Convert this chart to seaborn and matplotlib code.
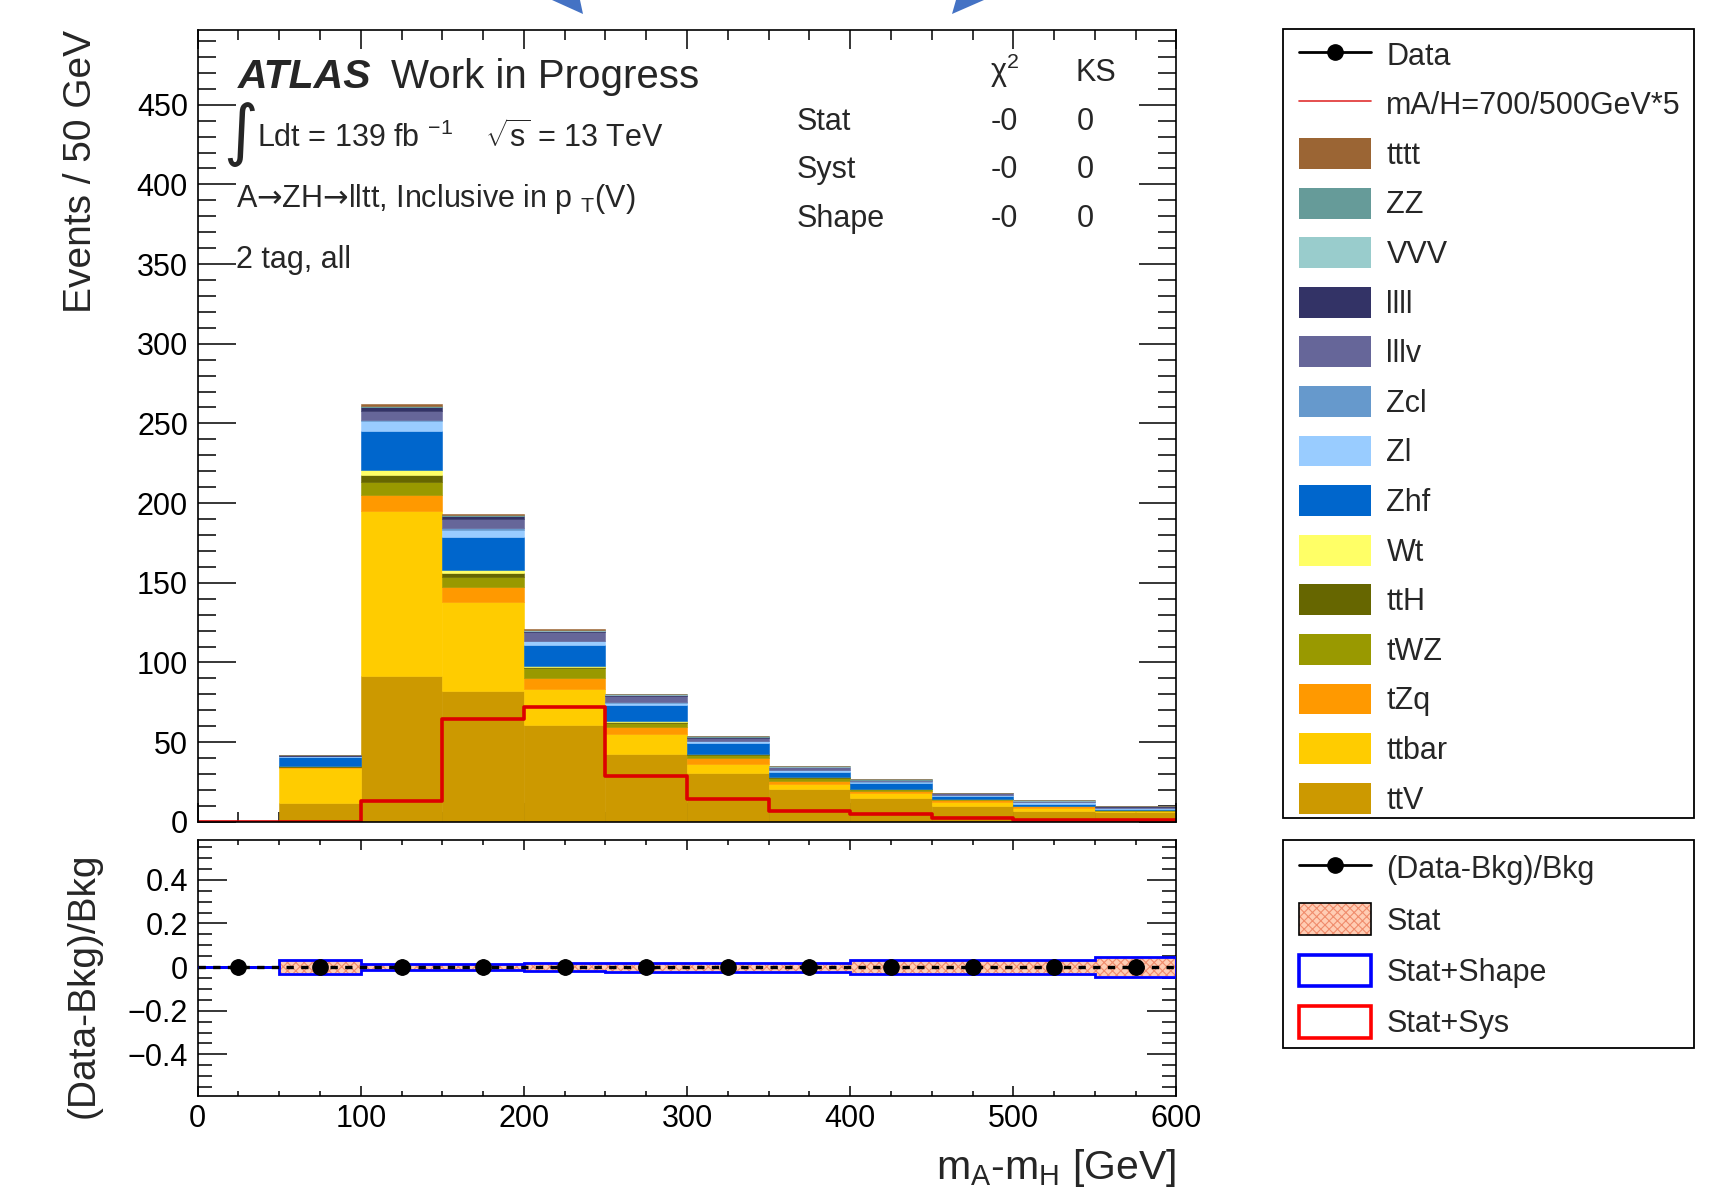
import numpy as np
import pandas as pd
import matplotlib
matplotlib.use("Agg")
import matplotlib.pyplot as plt
import seaborn as sns
from matplotlib.patches import Patch, Polygon, Rectangle
from matplotlib.lines import Line2D
from matplotlib.legend_handler import HandlerTuple
from matplotlib.ticker import MultipleLocator

# ---------------- data ----------------
bin_edges = [0, 50, 100, 150, 200, 250, 300, 350, 400, 450, 500, 550, 600]
bin_centers = [25, 75, 125, 175, 225, 275, 325, 375, 425, 475, 525, 575]

ttV   = [0, 11.6, 91.5, 82.3, 60.8, 42.6, 30.7, 20.6, 14.7, 10.1, 6.5, 5.9]
ttbar = [0, 22.0, 103.6, 55.9, 22.4, 12.5, 5.6, 3.1, 3.2, 2.1, 2.1, 0.6]
tZq   = [0, 0.6, 10.0, 9.0, 6.9, 4.6, 3.6, 2.1, 1.6, 1.5, 1.1, 0.4]
tWZ   = [0, 0.5, 8.4, 6.7, 6.3, 2.5, 2.3, 1.8, 0.9, 0.5, 0.4, 0.2]
ttH   = [0, 0.2, 4.2, 2.5, 1.0, 0.6, 0.3, 0.2, 0.1, 0.1, 0.05, 0.05]
Wt    = [0, 0.2, 3.1, 1.7, 0.4, 0.3, 0.1, 0.1, 0.1, 0.05, 0.05, 0.02]
Zhf   = [0, 5.5, 24.5, 20.9, 13.2, 10.0, 6.8, 3.6, 4.0, 1.6, 1.0, 0.8]
Zl    = [0, 0.4, 6.0, 4.2, 2.2, 1.6, 1.2, 0.9, 0.6, 0.7, 1.0, 0.4]
Zcl   = [0, 0.3, 1.0, 1.0, 0.5, 0.5, 0.3, 0.2, 0.2, 0.3, 0.3, 0.3]
lllv  = [0, 0.3, 5.6, 6.0, 5.3, 3.6, 1.8, 1.6, 0.8, 0.9, 0.5, 0.8]
llll  = [0, 0.1, 2.1, 1.5, 1.0, 0.8, 0.5, 0.4, 0.2, 0.2, 0.1, 0.2]
VVV   = [0, 0.05, 0.5, 0.4, 0.3, 0.3, 0.2, 0.15, 0.1, 0.1, 0.4, 0.1]
ZZ    = [0, 0.05, 0.6, 0.5, 0.3, 0.3, 0.2, 0.15, 0.1, 0.1, 0.2, 0.1]
tttt  = [0, 0.0, 1.0, 0.5, 0.2, 0.2, 0.2, 0.1, 0.05, 0.05, 0.0, 0.0]

signal = [0, 0, 13.3, 64.3, 71.9, 28.8, 14.2, 6.9, 4.8, 2.5, 1.1, 0.9]

ratio_values = [0, 0, 0, 0, 0, 0, 0, 0, 0, 0, 0, 0]
ratio_errors = [0.035, 0.035, 0.035, 0.035, 0.035, 0.035, 0.035, 0.035, 0.035, 0.035, 0.035, 0.035]
stat_err  = [0, 0.028, 0.013, 0.013, 0.017, 0.018, 0.018, 0.018, 0.028, 0.029, 0.029, 0.042]
shape_err = [0, 0.031, 0.015, 0.015, 0.020, 0.021, 0.021, 0.021, 0.032, 0.032, 0.032, 0.046]

# legend / stacking order (top of stack first)
process_names = ["tttt", "ZZ", "VVV", "llll", "lllv", "Zcl", "Zl", "Zhf",
                 "Wt", "ttH", "tWZ", "tZq", "ttbar", "ttV"]
process_values = [tttt, ZZ, VVV, llll, lllv, Zcl, Zl, Zhf, Wt, ttH, tWZ, tZq, ttbar, ttV]
process_colors = ["#9b6534", "#669b99", "#99cccc", "#333366", "#666699", "#6699cc",
                  "#99ccff", "#0066cc", "#ffff66", "#666600", "#999900", "#ff9900",
                  "#ffcc00", "#cc9900"]

# ---------------- style ----------------
sns.set_theme(style="ticks")
plt.rcParams['font.family'] = ['Liberation Sans', 'DejaVu Sans']
plt.rcParams['mathtext.fontset'] = 'custom'
plt.rcParams['mathtext.rm'] = 'Liberation Sans'
plt.rcParams['mathtext.it'] = 'Liberation Sans:italic'
plt.rcParams['mathtext.bf'] = 'Liberation Sans:bold'
plt.rcParams['mathtext.sf'] = 'DejaVu Sans'
plt.rcParams['axes.edgecolor'] = 'black'
plt.rcParams['axes.linewidth'] = 1.2
plt.rcParams['xtick.color'] = 'black'
plt.rcParams['ytick.color'] = 'black'
plt.rcParams['hatch.linewidth'] = 0.8

W, H = 1732, 1194
fig = plt.figure(figsize=(W / 100, H / 100), dpi=100)

def fx(px):
    return px / W

def fy(py):
    return 1 - py / H

ax = fig.add_axes([fx(197.7), fy(821.8), fx(1176.4) - fx(197.7), fy(29.8) - fy(821.8)])
axr = fig.add_axes([fx(197.7), fy(1095.8), fx(1176.4) - fx(197.7), fy(839.5) - fy(1095.8)])

# ---------------- main stacked histogram ----------------
rows = []
for name, vals in zip(process_names, process_values):
    for c, v in zip(bin_centers, vals):
        rows.append({"mass": c, "events": v, "process": name})
df = pd.DataFrame(rows)

sns.histplot(data=df, x="mass", weights="events", hue="process",
             hue_order=process_names, palette=dict(zip(process_names, process_colors)),
             multiple="stack", bins=bin_edges, element="bars", alpha=1,
             linewidth=0, legend=False, ax=ax)
for p in ax.patches:
    p.set_edgecolor(p.get_facecolor())
    p.set_linewidth(0.4)

sns.histplot(x=bin_centers, weights=signal, bins=bin_edges, element="step",
             fill=False, color="#dd0000", linewidth=2.6, ax=ax)

ax.set_xlim(0, 600)
ax.set_ylim(0, 497)
ax.xaxis.set_major_locator(MultipleLocator(100))
ax.xaxis.set_minor_locator(MultipleLocator(25))
ax.yaxis.set_major_locator(MultipleLocator(50))
ax.yaxis.set_minor_locator(MultipleLocator(10))
ax.tick_params(axis='both', which='both', direction='in', top=True, right=True,
               width=1.1, labelsize=22)
ax.tick_params(axis='y', which='major', length=27, pad=7)
ax.tick_params(axis='y', which='minor', length=13)
ax.tick_params(axis='x', which='major', length=14)
ax.tick_params(axis='x', which='minor', length=7)
ax.tick_params(axis='x', labelbottom=False)
ax.set_xlabel("")
ax.set_ylabel("Events / 50 GeV", fontsize=28, loc='top')
ax.yaxis.set_label_coords(-0.101, 1.0)

# texts
tr = ax.transAxes
def axx(px):
    return (px - 197.7) / 978.7

def axy(py):
    return 1 - (py - 29.8) / 792.0

ax.text(axx(238), axy(87.5), "ATLAS", fontsize=29.5, fontweight='bold', fontstyle='italic',
        transform=tr, va='baseline')
ax.text(axx(391), axy(87.5), "Work in Progress", fontsize=29, transform=tr, va='baseline')
ax.text(axx(241), axy(134), "\u222B", fontsize=48, family=['DejaVu Sans'],
        transform=tr, va='center', ha='center')
ax.text(axx(257), axy(147), r"Ldt = 139 fb $^{-1}$", fontsize=22, transform=tr, va='baseline')
ax.text(axx(485), axy(147), r"$\sqrt{\mathrm{s}}$ = 13 TeV", fontsize=22, transform=tr, va='baseline')
ax.text(axx(236), axy(207), r"A$\mathsf{→}$ZH$\mathsf{→}$lltt, Inclusive in p $_{\mathrm{T}}$(V)",
        fontsize=22, transform=tr, va='baseline')
ax.text(axx(236), axy(268), "2 tag, all", fontsize=22, transform=tr, va='baseline')

ax.text(axx(990), axy(81), r"χ$^{2}$", fontsize=22, transform=tr, va='baseline')
ax.text(axx(1076), axy(81), "KS", fontsize=22, transform=tr, va='baseline')
for lab, yb in zip(["Stat", "Syst", "Shape"], [129.5, 178.5, 227]):
    ax.text(axx(797), axy(yb), lab, fontsize=22, transform=tr, va='baseline')
    ax.text(axx(991), axy(yb), "-0", fontsize=22, transform=tr, va='baseline')
    ax.text(axx(1077), axy(yb), "0", fontsize=22, transform=tr, va='baseline')

# ---------------- ratio panel ----------------
stat_arr = np.array(stat_err)
shape_arr = np.array(shape_err)
axr.stairs(stat_arr, bin_edges, baseline=-stat_arr, fill=True, facecolor="#ffcdb4",
           edgecolor="#f08c6c", hatch="xxxx", linewidth=0, zorder=2)
axr.stairs(shape_arr, bin_edges, baseline=-shape_arr, fill=False, edgecolor="blue",
           linewidth=2.0, zorder=3)
axr.axhline(0, color="black", linestyle=(0, (2.2, 2.2)), linewidth=2.4, zorder=4)
axr.errorbar(bin_centers, ratio_values, yerr=ratio_errors, fmt='o', color='black',
             markersize=11, elinewidth=2, capsize=0, zorder=5)

axr.set_xlim(0, 600)
axr.set_ylim(-0.59, 0.585)
axr.xaxis.set_major_locator(MultipleLocator(100))
axr.xaxis.set_minor_locator(MultipleLocator(25))
axr.yaxis.set_major_locator(MultipleLocator(0.2))
axr.yaxis.set_minor_locator(MultipleLocator(0.05))
axr.set_yticks([-0.4, -0.2, 0, 0.2, 0.4])
axr.set_yticklabels(["\u22120.4", "\u22120.2", "0", "0.2", "0.4"])
axr.tick_params(axis='both', which='both', direction='in', top=True, right=True,
                width=1.1, labelsize=22)
axr.tick_params(axis='y', which='major', length=21, pad=7)
axr.tick_params(axis='y', which='minor', length=10)
axr.tick_params(axis='x', which='major', length=7, pad=6)
axr.tick_params(axis='x', which='minor', length=3.5)
axr.set_xlabel(r"m$_{\mathrm{A}}$-m$_{\mathrm{H}}$ [GeV]", fontsize=29.5, loc='right')
axr.xaxis.set_label_coords(1.0, -0.2)
axr.set_ylabel("(Data-Bkg)/Bkg", fontsize=28)
axr.yaxis.set_label_coords(-0.098, 0.43)

# ---------------- legends ----------------
fs = 22
h_main = [Line2D([], [], color='black', lw=2, marker='o', markersize=11),
          Line2D([], [], color='#e03030', lw=1.2)]
h_main += [Patch(facecolor=c, edgecolor=c, lw=0) for c in process_colors]
l_main = ["Data", "mA/H=700/500GeV*5"] + process_names
leg1 = fig.legend(h_main, l_main, loc='upper left', bbox_to_anchor=(fx(1299), fy(38.8)),
                  frameon=False, borderpad=0, borderaxespad=0, handlelength=2.35,
                  handleheight=1.18, handletextpad=0.51, labelspacing=0.55,
                  fontsize=fs, numpoints=1)
fig.add_artist(Rectangle((fx(1282.7), fy(818.3)), fx(1694) - fx(1282.7), fy(29) - fy(818.3),
                         transform=fig.transFigure, fill=False, edgecolor='black', lw=1.3))

stat_handle = (Patch(facecolor="#ffcdb4", edgecolor="#f08c6c", hatch="xxxx", lw=0),
               Patch(fill=False, edgecolor='black', lw=1.2))
h_ratio = [Line2D([], [], color='black', lw=2, marker='o', markersize=11),
           stat_handle,
           Patch(facecolor='white', edgecolor='blue', lw=2.6),
           Patch(facecolor='white', edgecolor='red', lw=2.6)]
l_ratio = ["(Data-Bkg)/Bkg", "Stat", "Stat+Shape", "Stat+Sys"]
leg2 = fig.legend(h_ratio, l_ratio, loc='upper left', bbox_to_anchor=(fx(1299), fy(852)),
                  frameon=False, borderpad=0, borderaxespad=0, handlelength=2.35,
                  handleheight=1.23, handletextpad=0.51, labelspacing=0.59,
                  fontsize=fs, numpoints=1, handler_map={tuple: HandlerTuple(ndivide=1, pad=0)})
fig.add_artist(Rectangle((fx(1282.7), fy(1048.3)), fx(1694) - fx(1282.7), fy(840) - fy(1048.3),
                         transform=fig.transFigure, fill=False, edgecolor='black', lw=1.3))

# ---------------- slide arrows at the top ----------------
arrow_color = "#4472c4"
fig.add_artist(Polygon([(fx(552), fy(0)), (fx(580), fy(0)), (fx(583), fy(14))], closed=True,
                       transform=fig.transFigure, facecolor=arrow_color, edgecolor='none'))
fig.add_artist(Polygon([(fx(952), fy(14)), (fx(956), fy(0)), (fx(984), fy(0))], closed=True,
                       transform=fig.transFigure, facecolor=arrow_color, edgecolor='none'))

fig.savefig("out.png", dpi=100)
